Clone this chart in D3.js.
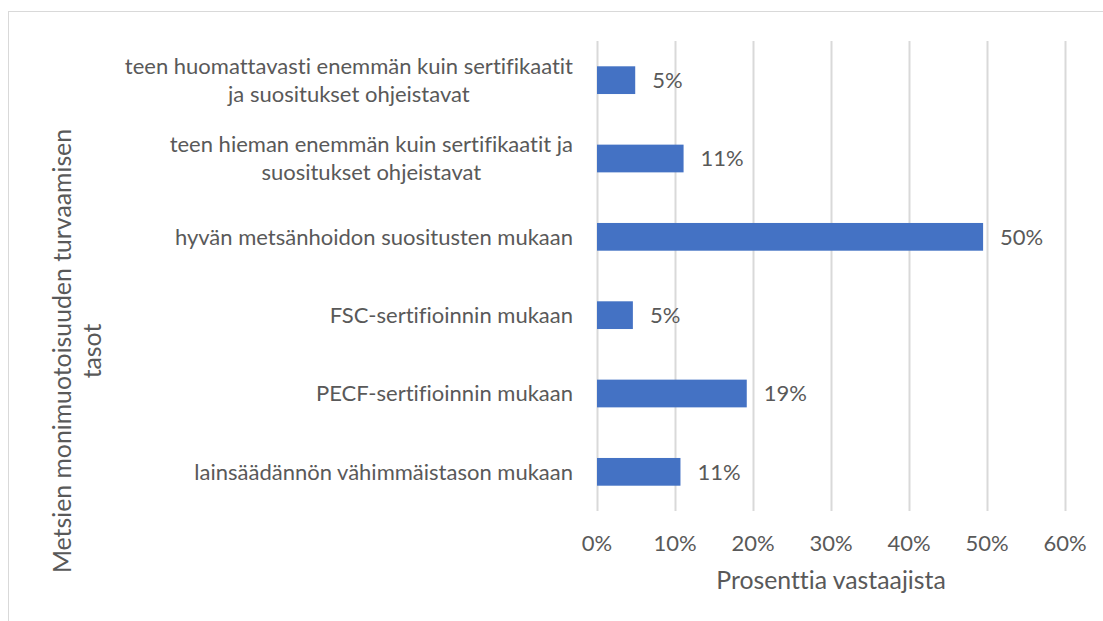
<!DOCTYPE html>
<html>
<head>
<meta charset="utf-8">
<script src="https://cdn.jsdelivr.net/npm/d3@7"></script>
<style>
  body { margin: 0; background: #fff; }
  text { font-family: Lato, "Open Sans", sans-serif; fill: #595959; font-variant-ligatures: none; }
</style>
</head>
<body>
<svg id="chart"></svg>
<script>
// categories top to bottom, each label split into its lines
var categories = [
  ["teen huomattavasti enemmän kuin sertifikaatit", "ja suositukset ohjeistavat"],
  ["teen hieman enemmän kuin sertifikaatit ja", "suositukset ohjeistavat"],
  ["hyvän metsänhoidon suositusten mukaan"],
  ["FSC-sertifioinnin mukaan"],
  ["PECF-sertifioinnin mukaan"],
  ["lainsäädännön vähimmäistason mukaan"]
];
var values = [0.049, 0.111, 0.495, 0.046, 0.192, 0.107];
var ticks = [0, 0.1, 0.2, 0.3, 0.4, 0.5, 0.6];
var xTitle = "Prosenttia vastaajista";
var yTitle = ["Metsien monimuotoisuuden turvaamisen", "tasot"];

var width = 1103, height = 621;
var margin = {top: 41, right: 38, bottom: 110, left: 597};
var fs = 22, fsTitle = 24.8;

var svg = d3.select("#chart")
    .attr("width", width)
    .attr("height", height);

// outer frame (runs past the window on right and bottom)
svg.append("rect")
    .attr("x", 8.5).attr("y", 11.5)
    .attr("width", 1200).attr("height", 800)
    .attr("fill", "none")
    .attr("stroke", "#d9d9d9")
    .attr("stroke-width", 1);

var x = d3.scaleLinear()
    .domain([0, 0.6])
    .range([margin.left, width - margin.right]);

var idx = d3.range(categories.length);
var y = d3.scaleBand()
    .domain(idx)
    .range([margin.top, height - margin.bottom])
    .paddingInner(0.646)
    .paddingOuter(0.323);

//----- gridlines
svg.append("g")
  .selectAll("line")
  .data(ticks)
  .enter()
  .append("line")
    .attr("x1", function(d) { return Math.round(x(d)) + 0.5; })
    .attr("x2", function(d) { return Math.round(x(d)) + 0.5; })
    .attr("y1", margin.top)
    .attr("y2", height - margin.bottom)
    .style("stroke", "#d9d9d9")
    .style("stroke-width", 2);

//----- x tick labels
svg.append("g")
  .selectAll("text")
  .data(ticks)
  .enter()
  .append("text")
    .attr("x", function(d) { return x(d); })
    .attr("y", 551)
    .style("text-anchor", "middle")
    .style("font-size", fs + "px")
    .text(d3.format(".0%"));

svg.append("text")
    .attr("x", (x(0) + x(0.6)) / 2)
    .attr("y", 589)
    .style("text-anchor", "middle")
    .style("font-size", fsTitle + "px")
    .text(xTitle);

//----- bars
svg.append("g")
  .selectAll("rect")
  .data(values)
  .enter()
  .append("rect")
    .attr("x", x(0))
    .attr("y", function(d, i) { return y(i); })
    .attr("width", function(d) { return x(d) - x(0); })
    .attr("height", y.bandwidth())
    .style("fill", "#4472c4");

// value labels
svg.append("g")
  .selectAll("text")
  .data(values)
  .enter()
  .append("text")
    .attr("x", function(d) { return x(d) + 17; })
    .attr("y", function(d, i) { return y(i) + y.bandwidth() / 2; })
    .attr("dy", "0.35em")
    .style("font-size", fs + "px")
    .text(d3.format(".0%"));

//----- category labels: block right aligned, lines centred within block
var lineH = 28;
var labels = svg.append("g")
  .selectAll("g")
  .data(categories)
  .enter()
  .append("g");

labels.each(function(lines, i) {
  var g = d3.select(this);
  var cy = y(i) + y.bandwidth() / 2;
  var t = g.selectAll("text")
    .data(lines)
    .enter()
    .append("text")
      .attr("y", function(d, j) { return cy + (j - (lines.length - 1) / 2) * lineH; })
      .attr("dy", "0.35em")
      .style("font-size", fs + "px")
      .style("text-anchor", "middle")
      .text(function(d) { return d; });
  var maxW = d3.max(t.nodes(), function(n) { return n.getComputedTextLength(); });
  t.attr("x", 573 - maxW / 2);
});

//----- y title
var yt = svg.append("text")
    .attr("transform", "translate(0,351) rotate(-90)")
    .style("text-anchor", "middle")
    .style("font-size", fsTitle + "px");
yt.selectAll("tspan")
  .data(yTitle)
  .enter()
  .append("tspan")
    .attr("x", 0)
    .attr("y", function(d, i) { return 71 + i * 30; })
    .text(function(d) { return d; });
</script>
</body>
</html>
